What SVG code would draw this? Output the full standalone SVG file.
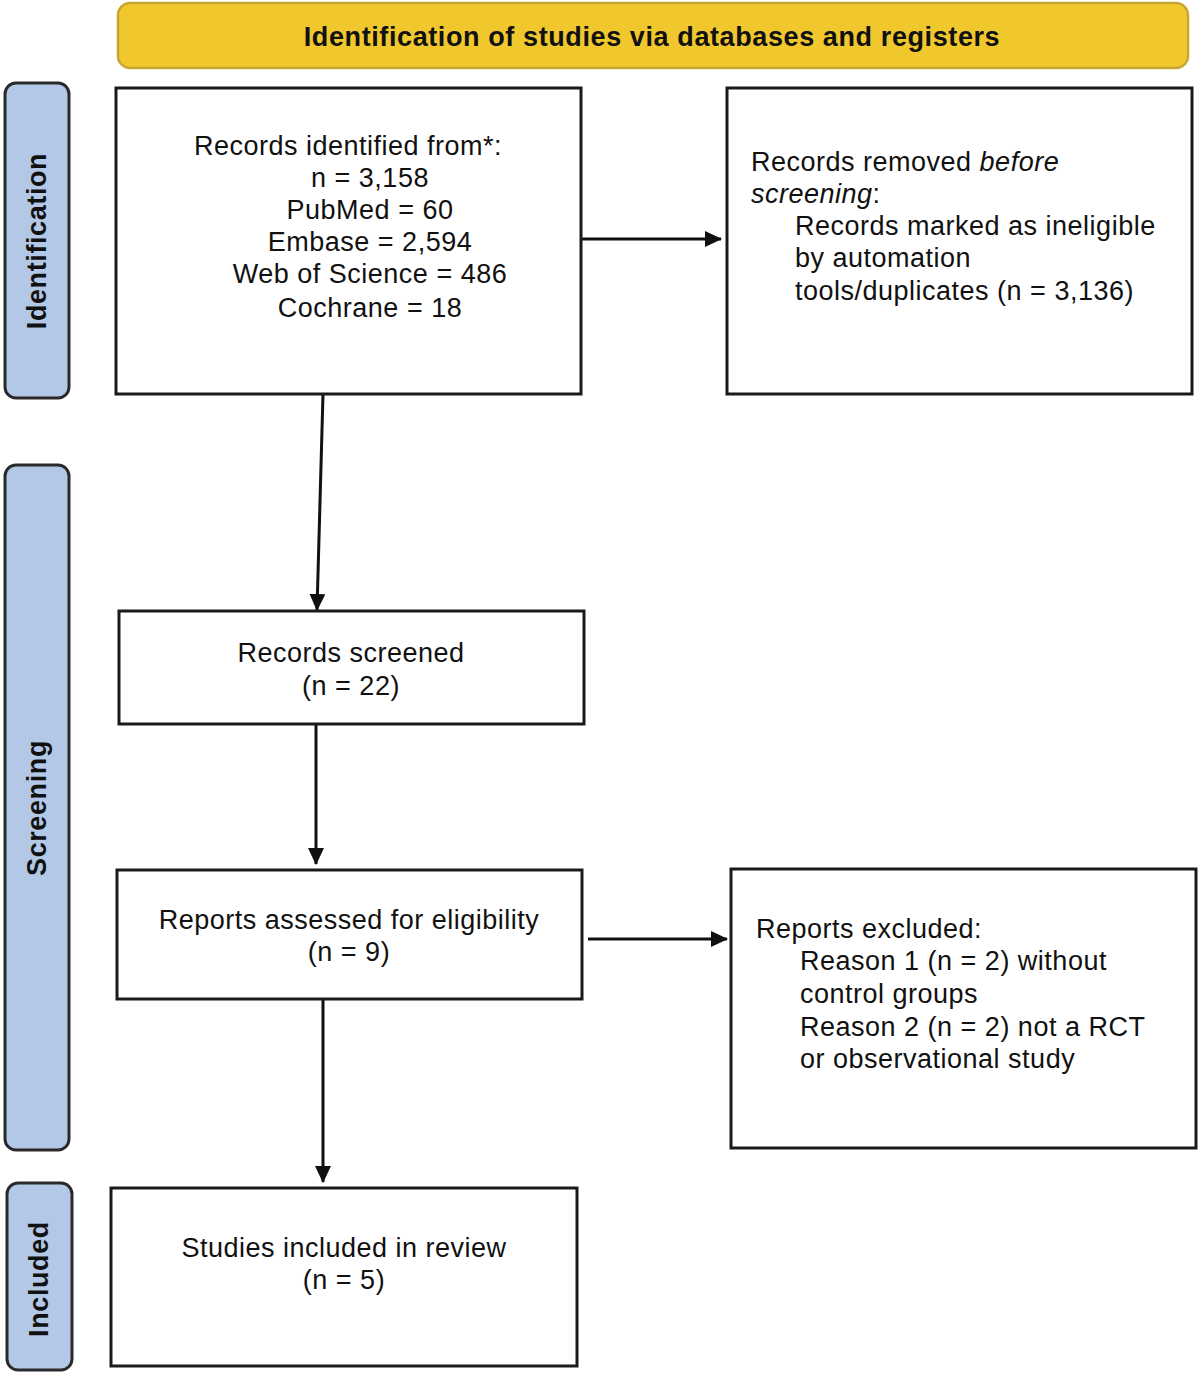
<svg xmlns="http://www.w3.org/2000/svg" width="1200" height="1375" viewBox="0 0 1200 1375">
<defs>
<style>
.box{fill:#fff;stroke:#1a1a1a;stroke-width:3}
.side{fill:#b3c8e6;stroke:#2a2a2a;stroke-width:3}
.hdr{fill:#f0c82e;stroke:#c9a631;stroke-width:2.5}
.t{font-family:"Liberation Sans",Arial,sans-serif;font-size:27px;letter-spacing:0.5px;fill:#111}
.c{text-anchor:middle}
.b{font-family:"Liberation Sans",Arial,sans-serif;font-size:27px;font-weight:bold;fill:#111;text-anchor:middle;letter-spacing:0.6px}
.conn{stroke:#111;stroke-width:3;fill:none;marker-end:url(#ah)}
</style>
<marker id="ah" markerUnits="userSpaceOnUse" markerWidth="18" markerHeight="16" refX="16" refY="8" orient="auto">
<path d="M0,0 L17,8 L0,16 z" fill="#111"/>
</marker>
</defs>
<rect width="1200" height="1375" fill="#fff"/>

<g id="header">
<rect class="hdr" x="118" y="3" width="1070" height="65" rx="12"/>
<text class="b" x="652" y="46">Identification of studies via databases and registers</text>
</g>

<g id="side-identification">
<rect class="side" x="5" y="83" width="64" height="315" rx="11"/>
<text class="b" transform="translate(46,241) rotate(-90)">Identification</text>
</g>
<g id="side-screening">
<rect class="side" x="5" y="465" width="64" height="685" rx="11"/>
<text class="b" transform="translate(46,808) rotate(-90)">Screening</text>
</g>
<g id="side-included">
<rect class="side" x="7" y="1183" width="65" height="187" rx="11"/>
<text class="b" transform="translate(48,1279) rotate(-90)">Included</text>
</g>

<g id="connectors">
<line class="conn" x1="323" y1="394" x2="317" y2="610"/>
<line class="conn" x1="316" y1="724" x2="316" y2="864"/>
<line class="conn" x1="323" y1="999" x2="323" y2="1182"/>
<line class="conn" x1="581" y1="239" x2="721" y2="239"/>
<line class="conn" x1="588" y1="939" x2="727" y2="939"/>
</g>

<g id="records-identified">
<rect class="box" x="116" y="88" width="465" height="306"/>
<text class="t c" x="348" y="155">Records identified from*:</text>
<text class="t c" x="370" y="187">n = 3,158</text>
<text class="t c" x="370" y="219">PubMed = 60</text>
<text class="t c" x="370" y="251">Embase = 2,594</text>
<text class="t c" x="370" y="283">Web of Science = 486</text>
<text class="t c" x="370" y="317">Cochrane = 18</text>
</g>

<g id="records-removed">
<rect class="box" x="727" y="88" width="465" height="306"/>
<text class="t" x="751" y="171">Records removed <tspan font-style="italic">before</tspan></text>
<text class="t" x="751" y="203"><tspan font-style="italic">screening</tspan>:</text>
<text class="t" x="795" y="235">Records marked as ineligible</text>
<text class="t" x="795" y="267">by automation</text>
<text class="t" x="795" y="300">tools/duplicates (n = 3,136)</text>
</g>

<g id="records-screened">
<rect class="box" x="119" y="611" width="465" height="113"/>
<text class="t c" x="351" y="662">Records screened</text>
<text class="t c" x="351" y="695">(n = 22)</text>
</g>

<g id="reports-assessed">
<rect class="box" x="117" y="870" width="465" height="129"/>
<text class="t c" x="349" y="929">Reports assessed for eligibility</text>
<text class="t c" x="349" y="961">(n = 9)</text>
</g>

<g id="reports-excluded">
<rect class="box" x="731" y="869" width="465" height="279"/>
<text class="t" x="756" y="938">Reports excluded:</text>
<text class="t" x="800" y="970">Reason 1 (n = 2) without</text>
<text class="t" x="800" y="1003">control groups</text>
<text class="t" x="800" y="1036">Reason 2 (n = 2) not a RCT</text>
<text class="t" x="800" y="1068">or observational study</text>
</g>

<g id="studies-included">
<rect class="box" x="111" y="1188" width="466" height="178"/>
<text class="t c" x="344" y="1257">Studies included in review</text>
<text class="t c" x="344" y="1289">(n = 5)</text>
</g>
</svg>
